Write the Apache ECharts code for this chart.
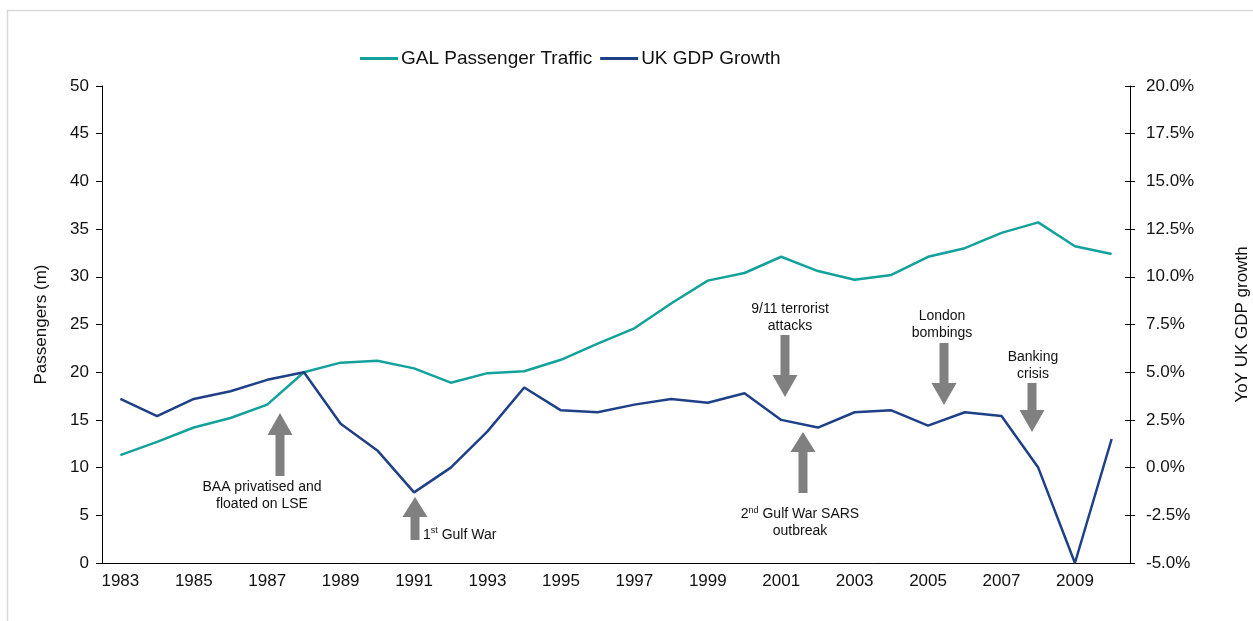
<!DOCTYPE html>
<html>
<head>
<meta charset="utf-8">
<script src="https://cdn.jsdelivr.net/npm/echarts@6/dist/echarts.min.js"></script>
<style>
  html, body {margin: 0; padding: 0; background: #fff;}
  #chart {width: 1253px; height: 621px;}
</style>
</head>
<body>
<div id="chart"></div>
<script>
const years = ['1983', '1984', '1985', '1986', '1987', '1988', '1989', '1990', '1991', '1992',
    '1993', '1994', '1995', '1996', '1997', '1998', '1999', '2000', '2001', '2002',
    '2003', '2004', '2005', '2006', '2007', '2008', '2009', '2010']
// Gatwick passengers, millions
const passengers = [11.3, 12.7, 14.2, 15.2, 16.6, 20.0, 21.0, 21.2, 20.4, 18.9,
    19.9, 20.1, 21.3, 23.0, 24.6, 27.2, 29.6, 30.4, 32.1, 30.6,
    29.7, 30.2, 32.1, 33.0, 34.6, 35.7, 33.2, 32.4]
// YoY UK GDP growth, %
const gdpGrowth = [3.6, 2.7, 3.6, 4.0, 4.6, 5.0, 2.3, 0.9, -1.3, 0.0,
    1.9, 4.2, 3.0, 2.9, 3.3, 3.6, 3.4, 3.9, 2.5, 2.1,
    2.9, 3.0, 2.2, 2.9, 2.7, 0.0, -5.0, 1.5]

const TEAL = '#13A29B'
const NAVY = '#1E4087'
const GREY = '#808080'
const FONT = 'Liberation Sans, Arial, sans-serif'

// block arrow polygon, tip first then head base then shaft end
const arrow = (cx, tipY, headBaseY, endY) => {
    const hw = 12.5, sw = 4.5
    return {
        type: 'polygon',
        silent: true,
        shape: {
            points: [
                [cx, tipY], [cx + hw, headBaseY], [cx + sw, headBaseY], [cx + sw, endY],
                [cx - sw, endY], [cx - sw, headBaseY], [cx - hw, headBaseY],
            ],
        },
        style: {fill: GREY},
    }
}

const note = (x, y, text, align) => ({
    type: 'text',
    silent: true,
    x: x,
    y: y,
    style: {
        text: text,
        font: '14px ' + FONT,
        fill: '#111',
        align: align || 'center',
        verticalAlign: 'middle',
        lineHeight: 17,
        rich: {
            n: {fontSize: 14, fontFamily: FONT, lineHeight: 17},
            s: {fontSize: 9, fontFamily: FONT, verticalAlign: 'top', lineHeight: 17, padding: [0, 0, 6, 0]},
        },
    },
})

const annotations = [
    arrow(280, 413, 435, 476),
    note(262, 496, 'BAA privatised and\nfloated on LSE'),
    arrow(415, 497, 517, 540),
    note(423, 535, '{n|1}{s|st}{n| Gulf War}', 'left'),
    arrow(785, 397, 375, 335),
    note(790, 318, '9/11 terrorist\nattacks'),
    arrow(803, 432, 452, 493),
    note(800, 523, '{n|2}{s|nd}{n| Gulf War SARS}\n{n|outbreak}'),
    arrow(944, 405, 383, 343),
    note(942, 325, 'London\nbombings'),
    arrow(1032, 432, 410, 383),
    note(1033, 366, 'Banking\ncrisis'),
]

const axisText = {color: '#111', fontSize: 17, fontFamily: FONT}

const myChart = echarts.init(document.getElementById('chart'), null, {renderer: 'canvas'})
myChart.setOption({
    backgroundColor: '#fff',
    animation: false,
    textStyle: {fontFamily: FONT},
    legend: {
        top: 44,
        left: 355,
        itemWidth: 38,
        itemHeight: 3,
        itemGap: 8,
        icon: 'rect',
        textStyle: {fontSize: 19, color: '#111', padding: [0, 0, 0, -2]},
        data: ['GAL Passenger Traffic', 'UK GDP Growth'],
    },
    grid: {left: 102, right: 123, top: 86, bottom: 58, containLabel: false, outerBoundsMode: 'none'},
    xAxis: {
        type: 'category',
        data: years,
        boundaryGap: true,
        axisLine: {lineStyle: {color: '#000', width: 1}},
        axisTick: {length: 5, interval: 0, lineStyle: {color: '#000'}},
        axisLabel: {...axisText, interval: 1, margin: 10},
        splitLine: {show: false},
    },
    yAxis: [
        {
            type: 'value',
            min: 0,
            max: 50,
            interval: 5,
            name: 'Passengers (m)',
            nameLocation: 'middle',
            nameRotate: 90,
            nameGap: 52,
            nameTextStyle: {...axisText},
            axisLine: {show: true, lineStyle: {color: '#000'}},
            axisTick: {show: true, length: 6, lineStyle: {color: '#000'}},
            axisLabel: {...axisText, margin: 13},
            splitLine: {show: false},
        },
        {
            type: 'value',
            position: 'right',
            min: -5,
            max: 20,
            interval: 2.5,
            name: 'YoY UK GDP growth',
            nameLocation: 'middle',
            nameRotate: 90,
            nameGap: 104,
            nameTextStyle: {...axisText},
            axisLine: {show: true, lineStyle: {color: '#000'}},
            axisTick: {show: true, length: 5, lineStyle: {color: '#000'}},
            axisLabel: {...axisText, margin: 16, formatter: (v) => v.toFixed(1) + '%'},
            splitLine: {show: false},
        },
        {
            // inner half of the crossing ticks on the right axis
            type: 'value',
            position: 'right',
            min: -5,
            max: 20,
            interval: 2.5,
            axisLine: {show: false},
            axisTick: {show: true, inside: true, length: 5, lineStyle: {color: '#000'}},
            axisLabel: {show: false},
            splitLine: {show: false},
        },
    ],
    series: [
        {
            name: 'GAL Passenger Traffic',
            type: 'line',
            data: passengers,
            yAxisIndex: 0,
            showSymbol: false,
            symbol: 'none',
            lineStyle: {color: TEAL, width: 2.5},
            itemStyle: {color: TEAL},
            z: 3,
        },
        {
            name: 'UK GDP Growth',
            type: 'line',
            data: gdpGrowth,
            yAxisIndex: 1,
            showSymbol: false,
            symbol: 'none',
            lineStyle: {color: NAVY, width: 2.5},
            itemStyle: {color: NAVY},
            z: 4,
        },
    ],
    graphic: [
        {
            type: 'rect',
            silent: true,
            shape: {x: 7.5, y: 10.5, width: 1300, height: 700},
            style: {fill: 'none', stroke: '#d9d9d9', lineWidth: 1.5},
            z: -10,
        },
        ...annotations,
    ],
})
</script>
</body>
</html>
